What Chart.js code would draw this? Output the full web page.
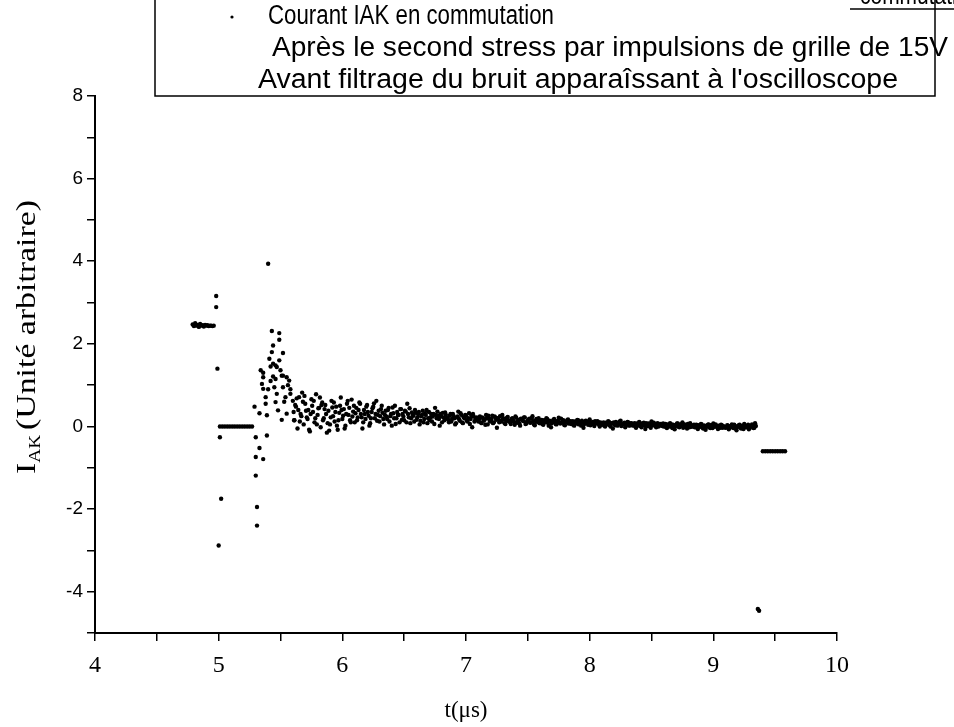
<!DOCTYPE html>
<html lang="fr">
<head>
  <meta charset="UTF-8">
  <title>Courant IAK en commutation</title>
  <script src="https://cdn.jsdelivr.net/npm/chart.js"></script>
  <style>
    body {
      margin: 0;
      background-color: #fff;
    }
    #chartContainer {
      width: 954px;
      height: 727px;
    }
  </style>
</head>
<body>
  <div id="chartContainer">
    <canvas id="iakChart"></canvas>
  </div>

  <script>
    // Plateau before switching (around 2.45)
    const plateauT = [4.79, 4.80, 4.81, 4.82, 4.83, 4.84, 4.85, 4.86, 4.87, 4.88, 4.89, 4.90, 4.91, 4.92, 4.93, 4.94, 4.95, 4.96];
    const plateauI = [2.47, 2.43, 2.50, 2.44, 2.46, 2.41, 2.48, 2.44, 2.45, 2.42, 2.46, 2.44, 2.45, 2.43, 2.44, 2.44, 2.43, 2.44];

    // Flat segment at zero just after the edge
    const zeroT = [5.01, 5.03, 5.05, 5.07, 5.09, 5.11, 5.13, 5.15, 5.17, 5.19, 5.21, 5.23, 5.25, 5.27];
    const zeroI = [0, 0, 0, 0, 0, 0, 0, 0, 0, 0, 0, 0, 0, 0];

    // Scattered points of the switching transient
    const spikeT = [4.98, 4.98, 4.99, 5.01, 5.02, 5.00,
      5.29, 5.33, 5.30, 5.33, 5.30, 5.36, 5.30, 5.31, 5.31, 5.39, 5.39,
      5.34, 5.36, 5.35, 5.36, 5.40, 5.38, 5.38, 5.40, 5.43, 5.49, 5.49,
      5.44, 5.43, 5.52, 5.41, 5.49, 5.44, 5.42, 5.46, 5.47, 5.50, 5.44,
      5.51, 5.46, 5.52, 5.55, 5.57, 5.47, 5.46, 5.48, 5.51, 5.54, 5.58,
      5.36, 5.42, 5.45, 5.52, 5.56, 5.55, 5.61, 5.53, 5.58];
    const spikeI = [3.16, 2.89, 1.40, -0.26, -1.75, -2.88,
      0.48, 0.32, -0.26, -0.52, -0.74, -0.79, -1.19, -1.95, -2.40, 0.27, -0.22,
      1.36, 1.19, 1.03, 0.91, 0.90, 0.71, 0.55, 3.94, 2.31, 2.26, 2.10,
      1.96, 1.80, 1.78, 1.64, 1.60, 1.52, 1.45, 1.48, 1.44, 1.36, 1.21,
      1.23, 1.15, 1.23, 1.19, 1.11, 0.79, 0.59, 0.39, 0.16, 0.71, 0.79,
      1.30, 1.10, 0.95, 0.95, 1.00, 0.31, 0.15, 0.60, 0.90];

    // Decaying noisy tail: two interleaved sample trains, every bandDt
    const bandT0 = 5.6;
    const bandDt = 0.0125;
    const bandI = [
      0.62, 0.15, 0.48, -0.05, 0.71, 0.30, 0.82, 0.05, 0.55, 0.22, 0.40, -0.12, 0.66, 0.35, 0.10, 0.78, 0.28, 0.45, -0.02, 0.58,
      0.20, 0.52, -0.15, 0.38, 0.05, 0.62, 0.25, 0.12, 0.48, -0.08, 0.33, 0.70, 0.18, 0.42, 0.02, 0.55, 0.28, 0.15, 0.65, 0.36,
      0.10, 0.45, 0.22, 0.58, 0.30, -0.05, 0.40, 0.18, 0.52, 0.26, 0.08, 0.35, 0.48, 0.20, 0.62, 0.28, 0.12, 0.42, 0.33, 0.05,
      0.38, 0.18, 0.45, 0.25, 0.02, 0.32, 0.50, 0.20, 0.28, 0.10, 0.42, 0.30, 0.15, 0.36, 0.55, 0.22, 0.08, 0.34, 0.26, 0.40,
      0.16, 0.30, 0.05, 0.25, 0.38, 0.18, 0.28, 0.08, 0.35, 0.22, 0.12, 0.30, 0.45, 0.20, 0.26, 0.02, 0.24, 0.33, 0.15, 0.28,
      0.20, 0.10, 0.30, 0.18, 0.25, 0.05, 0.22, 0.36, 0.14, 0.28, 0.08, 0.20, 0.26, 0.12, 0.32, 0.18, -0.02, 0.24, 0.15, 0.22,
      0.12, 0.24, 0.08, 0.20, 0.16, 0.28, 0.05, 0.18, 0.14, 0.26, 0.10, 0.22, -0.03, 0.17, 0.25, 0.12, 0.20, 0.08, 0.15, 0.23,
      0.14, 0.06, 0.20, 0.12, 0.24, 0.09, 0.16, 0.02, 0.18, 0.13, 0.22, 0.07, 0.15, 0.19, 0.10, 0.25, 0.05, 0.14, 0.11, 0.20,
      0.08, 0.16, 0.04, 0.12, 0.20, 0.09, 0.14, -0.02, 0.11, 0.18, 0.06, 0.13, 0.21, 0.07, 0.10, 0.15, 0.03, 0.12, 0.17, 0.09,
      0.06, 0.13, 0.02, 0.10, 0.16, 0.05, 0.09, 0.14, -0.03, 0.08, 0.12, 0.04, 0.17, 0.07, 0.11, 0.01, 0.09, 0.13, 0.05, 0.10,
      0.04, 0.10, 0.00, 0.07, 0.13, 0.03, 0.08, -0.05, 0.06, 0.11, 0.02, 0.09, 0.14, 0.04, 0.07, -0.02, 0.05, 0.10, 0.03, 0.08,
      0.02, 0.08, -0.03, 0.05, 0.11, 0.01, 0.06, 0.09, -0.06, 0.04, 0.07, 0.00, 0.12, 0.03, 0.05, -0.02, 0.08, 0.02, 0.06, 0.01,
      0.00, 0.06, -0.04, 0.03, 0.08, -0.01, 0.04, -0.07, 0.02, 0.07, -0.02, 0.05, 0.10, 0.01, 0.03, -0.05, 0.04, 0.08, -0.01, 0.02,
      -0.02, 0.04, -0.06, 0.01, 0.06, -0.03, 0.02, -0.08, 0.00, 0.05, -0.04, 0.03, 0.07, -0.01, 0.02, -0.06, 0.01, 0.04, -0.03, 0.00,
      -0.03, 0.03, -0.07, 0.00, 0.05, -0.04, 0.01, -0.09, -0.01, 0.04, -0.05, 0.02, 0.06, -0.02, 0.01, -0.07, 0.00, 0.05, -0.04, 0.08
    ];
    const bandI2 = [
      0.35, 0.52, 0.68, 0.40, 0.12, 0.25, 0.60, 0.74, 0.38, 0.18, -0.08, 0.30, 0.50, 0.62, 0.20, 0.05, 0.44, 0.70, 0.52, 0.15,
      0.42, 0.30, 0.08, -0.10, 0.22, 0.46, 0.58, 0.35, 0.02, 0.15, 0.50, 0.40, 0.26, -0.05, 0.30, 0.62, 0.45, 0.10, 0.24, 0.50,
      0.32, 0.15, 0.40, 0.55, 0.22, 0.10, 0.30, 0.48, 0.35, 0.02, 0.20, 0.44, 0.56, 0.30, 0.14, 0.38, 0.25, 0.50, 0.18, 0.28,
      0.24, 0.40, 0.12, 0.30, 0.46, 0.20, 0.06, 0.35, 0.28, 0.42, 0.16, 0.24, 0.38, 0.10, 0.30, 0.44, 0.20, 0.28, 0.12, 0.33,
      0.22, 0.35, 0.14, 0.28, 0.10, 0.32, 0.40, 0.20, 0.15, 0.30, 0.24, 0.06, 0.28, 0.36, 0.18, 0.30, 0.10, 0.22, 0.34, 0.20,
      0.16, 0.26, 0.12, 0.30, 0.20, 0.08, 0.24, 0.18, 0.32, 0.10, 0.22, 0.28, 0.14, 0.20, 0.06, 0.26, 0.30, 0.12, 0.20, 0.16,
      0.18, 0.10, 0.22, 0.14, 0.04, 0.20, 0.26, 0.12, 0.18, 0.08, 0.24, 0.16, 0.20, 0.10, 0.14, 0.28, 0.18, 0.06, 0.21, 0.13,
      0.10, 0.18, 0.14, 0.04, 0.21, 0.12, 0.08, 0.19, 0.15, 0.22, 0.06, 0.12, 0.17, 0.09, 0.20, 0.13, 0.03, 0.18, 0.14, 0.08,
      0.12, 0.06, 0.15, 0.10, 0.18, 0.02, 0.13, 0.08, 0.16, 0.11, 0.05, 0.14, 0.09, 0.19, 0.12, 0.04, 0.10, 0.15, 0.07, 0.13,
      0.09, 0.04, 0.12, 0.07, 0.15, 0.10, 0.02, 0.11, 0.06, 0.14, 0.08, 0.12, 0.03, 0.10, 0.05, 0.13, 0.07, 0.11, 0.00, 0.08,
      0.06, 0.02, 0.09, 0.05, 0.11, 0.00, 0.07, 0.10, 0.03, 0.08, 0.05, 0.12, 0.01, 0.06, 0.09, 0.04, 0.11, 0.02, 0.07, 0.05,
      0.04, 0.00, 0.07, 0.02, 0.09, -0.02, 0.05, 0.03, 0.08, 0.01, 0.06, -0.03, 0.04, 0.09, 0.02, 0.06, 0.00, 0.05, 0.03, 0.07,
      0.02, -0.02, 0.05, 0.00, 0.06, -0.04, 0.03, 0.01, 0.07, -0.01, 0.04, 0.02, -0.03, 0.05, 0.00, 0.06, -0.02, 0.03, 0.01, 0.04,
      0.01, -0.03, 0.03, -0.01, 0.05, -0.05, 0.02, 0.00, 0.04, -0.02, 0.03, -0.04, 0.01, 0.05, -0.01, 0.02, -0.03, 0.03, 0.00, -0.02,
      -0.01, 0.02, -0.04, 0.01, -0.02, 0.04, -0.05, 0.00, 0.03, -0.03, 0.01, -0.06, 0.02, -0.01, 0.04, -0.04, 0.00, 0.02, -0.03, 0.01
    ];

    // End of the record: isolated dip and flat segment
    const endT = [9.36, 9.37, 9.40, 9.42, 9.44, 9.46, 9.48, 9.50, 9.52, 9.54, 9.56, 9.58];
    const endI = [-4.42, -4.46, -0.60, -0.60, -0.60, -0.60, -0.60, -0.60, -0.60, -0.60, -0.60, -0.60];

    const legendLines = [
      'Courant IAK en commutation',
      'Après le second stress par impulsions de grille de 15V',
      "Avant filtrage du bruit apparaîssant à l'oscilloscope"
    ];

    function toPoints(ts, is) {
      return ts.map((t, k) => ({ x: t, y: is[k] }));
    }

    const points = []
      .concat(toPoints(plateauT, plateauI))
      .concat(toPoints(zeroT, zeroI))
      .concat(toPoints(spikeT, spikeI))
      .concat(bandI.map((v, k) => ({ x: bandT0 + k * bandDt, y: v })))
      .concat(bandI2.map((v, k) => ({ x: bandT0 + (k + 0.5) * bandDt, y: v })))
      .concat(toPoints(endT, endI));

    const sansFont = '"Liberation Sans", Arial, sans-serif';
    const serifFont = '"Liberation Serif", "Times New Roman", serif';

    // squeeze or stretch a line of text horizontally to a given width
    function fitText(ctx, txt, x, y, width) {
      const w = ctx.measureText(txt).width;
      ctx.save();
      ctx.translate(x, y);
      ctx.scale(width / w, 1);
      ctx.fillText(txt, 0, 0);
      ctx.restore();
    }

    // legend box, legend text and the axis titles
    const decorPlugin = {
      id: 'decor',
      afterDraw(chart) {
        const ctx = chart.ctx;
        const area = chart.chartArea;
        ctx.save();
        ctx.fillStyle = '#000';
        ctx.strokeStyle = '#000';
        ctx.textAlign = 'left';

        // cut-off caption at the very top right of the scan
        ctx.font = '26px ' + sansFont;
        ctx.textBaseline = 'alphabetic';
        fitText(ctx, 'commutation', 860, 4, 120);
        ctx.lineWidth = 1.5;
        ctx.beginPath();
        ctx.moveTo(850, 9);
        ctx.lineTo(954, 9);
        ctx.stroke();

        // legend frame
        ctx.beginPath();
        ctx.moveTo(155, 0);
        ctx.lineTo(155, 96);
        ctx.lineTo(935, 96);
        ctx.lineTo(935, 0);
        ctx.stroke();

        // legend marker
        ctx.beginPath();
        ctx.arc(232, 17, 1.6, 0, Math.PI * 2);
        ctx.fill();

        // legend text
        ctx.font = '27px ' + sansFont;
        ctx.textBaseline = 'middle';
        const lx = [268, 272, 258];
        const ly = [17, 49, 81];
        const lw = [286, 676, 640];
        legendLines.forEach((txt, k) => fitText(ctx, txt, lx[k], ly[k], lw[k]));

        // y axis title, stretched along its length like the scan
        const big = '28px ' + serifFont;
        const small = '16px ' + serifFont;
        ctx.font = big;
        const wI = ctx.measureText('I').width;
        const wRest = ctx.measureText('(Unité arbitraire)').width;
        ctx.font = small;
        const wSub = ctx.measureText('AK').width;
        const total = wI + wSub + 4 + wRest;
        ctx.translate(25, 337);
        ctx.rotate(-Math.PI / 2);
        ctx.scale(274 / total, 1);
        let x0 = -total / 2;
        ctx.textBaseline = 'alphabetic';
        ctx.font = big;
        ctx.fillText('I', x0, 10);
        x0 += wI;
        ctx.font = small;
        ctx.fillText('AK', x0, 15);
        x0 += wSub + 4;
        ctx.font = big;
        ctx.fillText('(Unité arbitraire)', x0, 10);
        ctx.restore();

        // x axis title
        ctx.save();
        ctx.font = '23px ' + serifFont;
        ctx.fillStyle = '#000';
        ctx.textAlign = 'center';
        ctx.textBaseline = 'middle';
        ctx.fillText('t(μs)', (area.left + area.right) / 2, 711);
        ctx.restore();
      }
    };

    new Chart(document.getElementById('iakChart'), {
      type: 'scatter',
      data: {
        datasets: [{
          label: 'Courant IAK en commutation',
          data: points,
          backgroundColor: '#000',
          borderWidth: 0,
          pointRadius: 2.2,
          pointHoverRadius: 2.2
        }]
      },
      options: {
        responsive: true,
        maintainAspectRatio: false,
        animation: false,
        layout: {
          padding: { top: 96, right: 117, left: 0, bottom: 0 }
        },
        plugins: {
          legend: { display: false },
          tooltip: { enabled: false }
        },
        scales: {
          x: {
            type: 'linear',
            min: 4,
            max: 10,
            afterFit: scale => { scale.height = 94; },
            ticks: {
              stepSize: 0.5,
              autoSkip: false,
              maxRotation: 0,
              padding: 10,
              color: '#000',
              font: { family: serifFont, size: 24 },
              callback: v => Number.isInteger(v) ? v : ''
            },
            grid: {
              display: true,
              drawOnChartArea: false,
              drawTicks: true,
              tickLength: 8,
              color: '#000',
              lineWidth: 1.5
            },
            border: { display: true, color: '#000', width: 2 }
          },
          y: {
            type: 'linear',
            min: -5,
            max: 8,
            afterFit: scale => { scale.width = 95; },
            ticks: {
              stepSize: 1,
              autoSkip: false,
              padding: 4,
              color: '#000',
              font: { family: sansFont, size: 19 },
              callback: v => (v % 2 === 0) ? v : ''
            },
            grid: {
              display: true,
              drawOnChartArea: false,
              drawTicks: true,
              tickLength: 8,
              color: '#000',
              lineWidth: 1.5
            },
            border: { display: true, color: '#000', width: 2 }
          }
        }
      },
      plugins: [decorPlugin]
    });
  </script>
</body>
</html>
